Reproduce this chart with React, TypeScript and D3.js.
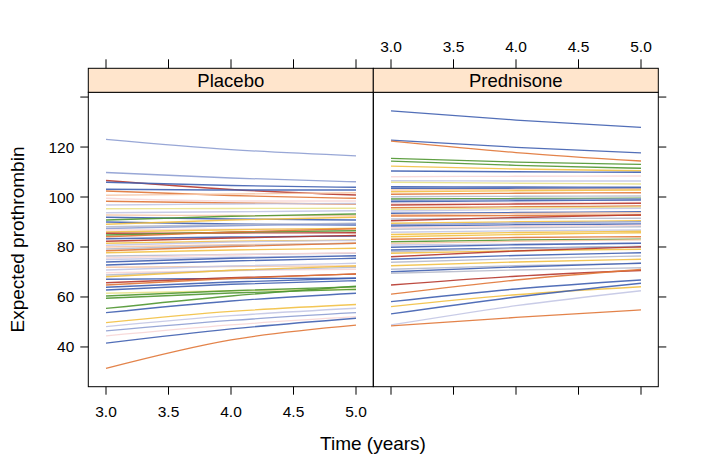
import React from "react";
import * as d3 from "d3";

const panels = ["Placebo", "Prednisone"];
const times = [3, 4, 5];
const xTicks = [3.0, 3.5, 4.0, 4.5, 5.0];
const yTicks = [40, 60, 80, 100, 120, 140];
const yLabelTicks = [40, 60, 80, 100, 120];

const palette: Record<string, string> = {
  b: "#3f5fb0",
  lb: "#8d9dd2",
  lv: "#c3c6e4",
  o: "#e07636",
  r: "#b6372c",
  g: "#4f9630",
  y: "#f2c042",
  ly: "#e9e28c",
  p: "#f6c7a6",
  pk: "#f7d6d6",
  gr: "#b6bacb",
};

// Placebo: values at t = 3, 4, 5
const placeboStart = [123.1, 109.8, 106.6, 105.9, 103.1, 102.4, 100.7, 99.5, 98.3, 96.8, 95.3, 93.7, 92.8, 91.9, 90.8, 90.0, 89.1, 88.1, 87.4, 86.8, 86.0, 85.5, 84.8, 84.1, 83.3, 82.3, 81.5, 80.7, 80.0, 79.2, 78.5, 77.7, 76.4, 75.6, 75.0, 74.0, 72.8, 71.9, 70.8, 69.7, 68.8, 68.1, 67.1, 65.7, 64.8, 63.9, 62.8, 61.5, 60.4, 59.5, 55.4, 53.7, 49.7, 48.1, 46.4, 44.4, 41.5, 31.4];
const placeboMid = [119.0, 107.6, 103.0, 104.6, 102.8, 100.6, 101.2, 98.4, 97.6, 97.2, 95.4, 94.1, 92.6, 91.2, 92.3, 89.2, 90.8, 88.9, 88.5, 87.1, 86.9, 85.6, 85.9, 86.0, 84.0, 83.6, 82.3, 82.0, 80.9, 80.6, 80.2, 78.8, 77.0, 76.9, 75.9, 75.5, 74.4, 72.2, 72.4, 70.5, 70.6, 70.7, 67.4, 67.7, 67.4, 66.0, 65.1, 62.5, 62.5, 61.6, 60.4, 58.4, 54.2, 52.5, 50.6, 48.8, 47.2, 42.8];
const placeboEnd = [116.5, 106.1, 100.8, 103.9, 102.8, 99.5, 101.7, 98.4, 97.2, 97.4, 95.5, 94.5, 92.5, 90.8, 93.2, 88.8, 91.9, 89.5, 89.2, 87.3, 87.5, 85.7, 86.5, 87.3, 84.4, 84.6, 82.8, 82.6, 81.5, 81.5, 81.5, 79.5, 77.5, 77.7, 76.5, 76.5, 75.5, 72.4, 73.5, 71.1, 71.9, 72.4, 67.5, 69.2, 69.2, 67.5, 66.5, 63.1, 64.1, 63.0, 64.3, 61.5, 57.0, 55.5, 53.7, 52.1, 51.5, 48.7];
const placeboColors = ["lb", "lb", "r", "b", "b", "o", "p", "pk", "o", "lv", "ly", "lv", "p", "b", "g", "b", "y", "gr", "lb", "pk", "y", "r", "g", "o", "b", "r", "y", "lv", "p", "gr", "o", "y", "gr", "pk", "lv", "b", "b", "p", "lv", "pk", "gr", "y", "b", "r", "o", "b", "b", "ly", "g", "g", "g", "b", "y", "lv", "lb", "pk", "b", "o"];

// Prednisone: values at t = 3, 4, 5
const prednisoneStart = [134.5, 122.8, 122.4, 115.5, 114.4, 112.4, 110.4, 108.1, 106.5, 105.9, 104.1, 103.5, 102.8, 102.1, 101.1, 100.1, 99.2, 98.6, 98.1, 97.4, 96.8, 95.7, 95.0, 94.4, 93.5, 92.9, 92.4, 91.2, 90.5, 89.5, 88.9, 88.4, 87.7, 87.1, 85.9, 85.0, 84.1, 83.1, 82.1, 81.4, 80.8, 79.9, 78.8, 78.1, 77.5, 76.1, 75.1, 73.9, 72.5, 71.1, 70.1, 69.5, 64.8, 61.1, 58.1, 56.1, 53.2, 48.8, 48.4];
const prednisoneMid = [130.8, 119.9, 117.8, 114.0, 112.7, 111.2, 110.1, 108.3, 106.4, 105.5, 104.0, 103.5, 103.0, 102.5, 101.5, 100.3, 99.4, 99.0, 98.5, 97.6, 97.2, 96.1, 95.6, 95.0, 93.8, 93.4, 92.6, 91.4, 91.8, 90.1, 89.6, 88.9, 88.3, 87.7, 86.5, 85.8, 85.0, 83.8, 82.8, 82.3, 81.2, 80.9, 79.6, 79.4, 78.5, 78.4, 76.6, 75.3, 74.0, 72.5, 72.0, 70.8, 68.3, 66.8, 63.2, 60.9, 60.0, 56.5, 51.8];
const prednisoneEnd = [127.9, 117.7, 114.4, 113.1, 111.5, 110.5, 109.9, 108.4, 106.4, 105.2, 103.9, 103.5, 103.2, 102.8, 101.7, 100.4, 99.5, 99.3, 98.8, 97.8, 97.5, 96.4, 96.0, 95.5, 94.1, 93.7, 92.8, 91.5, 92.8, 90.5, 90.1, 89.2, 88.7, 88.1, 86.8, 86.3, 85.7, 84.1, 83.1, 82.9, 81.5, 81.5, 80.1, 80.3, 79.1, 80.1, 77.7, 76.4, 75.1, 73.5, 73.5, 71.7, 70.6, 71.0, 66.8, 64.1, 65.5, 62.5, 54.8];
const prednisoneColors = ["b", "b", "o", "g", "g", "y", "b", "pk", "lv", "ly", "b", "b", "p", "y", "o", "gr", "g", "lb", "b", "pk", "r", "o", "ly", "lv", "b", "p", "o", "gr", "r", "y", "lb", "b", "pk", "gr", "lv", "y", "y", "o", "g", "p", "lv", "b", "b", "gr", "y", "r", "b", "gr", "y", "gr", "b", "gr", "r", "o", "b", "y", "b", "lv", "o"];

const W = 706;
const H = 471;
const panelTop = 92.3;
const panelBottom = 386.7;
const stripTop = 68.3;
const panelLefts = [88.3, 373.3];
const panelW = 285;

const font = "'Liberation Sans', Arial, Helvetica, sans-serif";

export default function App() {
  const y = d3.scaleLinear().domain([24.1, 141.9]).range([panelBottom, panelTop]);
  const xs = panelLefts.map((l) =>
    d3.scaleLinear().domain([2.8584, 5.1384]).range([l, l + panelW])
  );
  const line = (xScale: d3.ScaleLinear<number, number>) =>
    d3
      .line<[number, number]>()
      .x((d) => xScale(d[0]))
      .y((d) => y(d[1]))
      .curve(d3.curveMonotoneX);

  const series = [
    { start: placeboStart, mid: placeboMid, end: placeboEnd, colors: placeboColors },
    { start: prednisoneStart, mid: prednisoneMid, end: prednisoneEnd, colors: prednisoneColors },
  ];

  return (
    <svg width={W} height={H} style={{ display: "block", position: "absolute", left: 0, top: 0 }} fontFamily={font}>
      <rect x={0} y={0} width={W} height={H} fill="white" />
      {panels.map((name, pi) => {
        const xScale = xs[pi];
        const s = series[pi];
        const gen = line(xScale);
        const left = panelLefts[pi];
        return (
          <g key={name}>
            <clipPath id={`clip${pi}`}>
              <rect x={left} y={panelTop} width={panelW} height={panelBottom - panelTop} />
            </clipPath>
            <g clipPath={`url(#clip${pi})`}>
              {s.start.map((v, i) => {
                const vals = [v, s.mid[i], s.end[i]];
                const pts = times.map((t, k) => [t, vals[k]] as [number, number]);
                return (
                  <path
                    key={i}
                    d={gen(pts) || ""}
                    fill="none"
                    stroke={palette[s.colors[i]]}
                    strokeWidth={1.3}
                    strokeOpacity={0.9}
                  />
                );
              })}
            </g>
            <rect x={left} y={panelTop} width={panelW} height={panelBottom - panelTop} fill="none" stroke="black" strokeWidth={1} />
            <rect x={left} y={stripTop} width={panelW} height={panelTop - stripTop} fill="#ffe5cc" stroke="black" strokeWidth={1} />
            <text x={left + panelW / 2} y={(stripTop + panelTop) / 2 + 6.5} textAnchor="middle" fontSize={18.5}>
              {name}
            </text>
            {xTicks.map((t) => (
              <g key={t}>
                <line x1={xScale(t)} x2={xScale(t)} y1={panelBottom} y2={panelBottom + 8} stroke="black" />
                <line x1={xScale(t)} x2={xScale(t)} y1={stripTop} y2={stripTop - 9} stroke="black" />
                {pi === 0 ? (
                  <text x={xScale(t)} y={panelBottom + 30} textAnchor="middle" fontSize={15.5}>
                    {t.toFixed(1)}
                  </text>
                ) : (
                  <text x={xScale(t)} y={stripTop - 16} textAnchor="middle" fontSize={15.5}>
                    {t.toFixed(1)}
                  </text>
                )}
              </g>
            ))}
          </g>
        );
      })}
      {yTicks.map((t) => (
        <g key={t}>
          <line x1={panelLefts[0] - 8} x2={panelLefts[0]} y1={y(t)} y2={y(t)} stroke="black" />
          <line x1={panelLefts[1] + panelW} x2={panelLefts[1] + panelW + 8} y1={y(t)} y2={y(t)} stroke="black" />
        </g>
      ))}
      {yLabelTicks.map((t) => (
        <text key={t} x={panelLefts[0] - 14} y={y(t) + 5.5} textAnchor="end" fontSize={15.5}>
          {t}
        </text>
      ))}
      <text x={373} y={450} textAnchor="middle" fontSize={19}>
        Time (years)
      </text>
      <text transform={`translate(24,${(panelTop + panelBottom) / 2}) rotate(-90)`} textAnchor="middle" fontSize={19}>
        Expected prothrombin
      </text>
    </svg>
  );
}
